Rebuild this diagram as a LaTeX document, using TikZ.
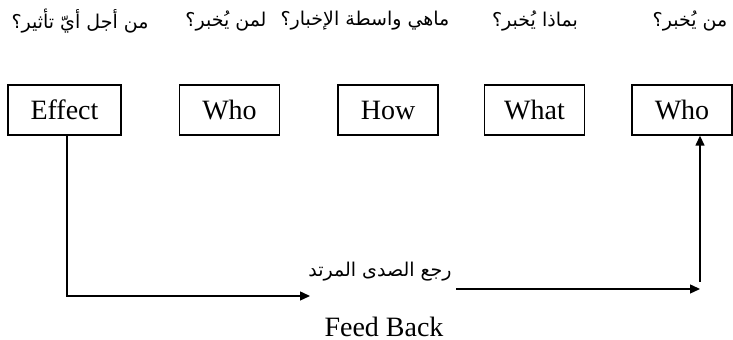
\documentclass[tikz,border=0pt]{standalone}
\usepackage{fontspec}
\setmainfont{Liberation Serif}
\newfontfamily\arabicfont[Script=Arabic]{DejaVu Sans}
\TeXXeTstate=1
\usetikzlibrary{arrows.meta}
% right-to-left Arabic phrase
\newcommand\artext[1]{{\arabicfont\beginR #1\endR}}
\begin{document}
\begin{tikzpicture}[x=0.5pt,y=-0.5pt,
  stage/.style={draw, line width=0.7pt, minimum width=50pt, minimum height=25pt,
    inner sep=0pt, font=\fontsize{14}{16}\selectfont},
  question/.style={inner sep=0pt, font=\fontsize{9.5}{11}\selectfont},
  caption/.style={inner sep=0pt, font=\fontsize{14}{16}\selectfont},
  flow/.style={line width=0.7pt, -{Triangle[length=5pt,width=4.5pt]}}]
\useasboundingbox (0,0) rectangle (733,340);

% questions above the stages
\node[question] (q1) at (80,21)  {\artext{من أجل أيّ تأثير؟}};
\node[question] (q2) at (226,21) {\artext{لمن يُخبر؟}};
\node[question] (q3) at (365,21) {\artext{ماهي واسطة الإخبار؟}};
\node[question] (q4) at (535,21) {\artext{بماذا يُخبر؟}};
\node[question] (q5) at (690,21) {\artext{من يُخبر؟}};

% the five stages
\node[stage, minimum width=56.5pt] (effect) at (64.5,110) {Effect};
\node[stage] (who1) at (229.5,110) {Who};
\node[stage] (how)  at (388,110)   {How};
\node[stage] (what) at (534.5,110) {What};
\node[stage] (who2) at (682,110)   {Who};

% feedback path
\coordinate (c1) at (67,296);
\coordinate (c2) at (310,296);
\coordinate (d1) at (456,289);
\coordinate (d2) at (700,289);
\coordinate (d3) at (700,282);
\draw[flow] (effect.south -| c1) -- (c1) -- (c2);
\draw[flow] (d1) -- (d2);
\draw[flow] (d3) -- (d3 |- who2.south);

\node[question] (echo) at (380,272) {\artext{رجع الصدى المرتد}};
\node[caption] (fb) at (384,327) {Feed Back};
\end{tikzpicture}
\end{document}
